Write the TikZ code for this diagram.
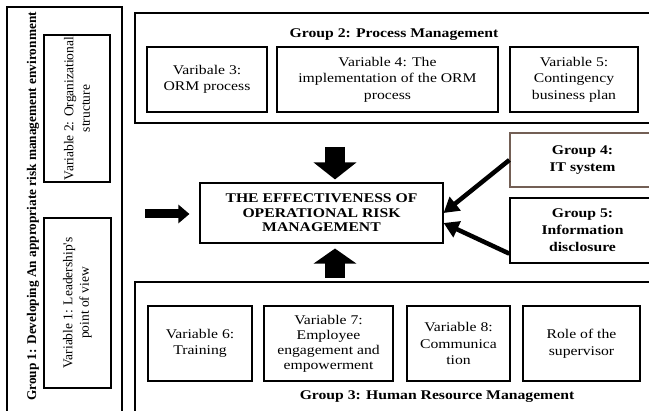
\documentclass[tikz,border=0pt]{standalone}
\usepackage{fontspec}
\setmainfont{Liberation Serif}[FakeStretch=1.18]
\newfontfamily\rotfont{Liberation Serif}
\usetikzlibrary{arrows.meta}
\definecolor{itbrown}{RGB}{115,95,85}

\begin{document}
\begin{tikzpicture}[x=1pt, y=-1pt,
  group/.style={draw, line width=1.3pt, inner sep=0pt},
  varbox/.style={draw, line width=1.1pt, align=center, inner sep=1pt,
    font=\fontsize{13.3}{16.5}\selectfont},
  rotbox/.style={varbox, rotate=90, font=\rotfont\fontsize{13.5}{16.5}\selectfont},
  grouptitle/.style={align=center, font=\fontsize{13.3}{17}\selectfont\bfseries},
  blockarrow/.style={line width=20pt, -{Triangle[width=42pt,length=17pt]}},
  slimarrow/.style={line width=4.5pt, -{Triangle[width=17pt,length=15pt]}}]

  \clip (0,0) rectangle (649,411);

  % group 1
  \node[group, minimum width=115pt, minimum height=413pt] (g1) at (64.5,213.5) {};
  \node[rotate=90, font=\rotfont\fontsize{13.3}{16}\selectfont\bfseries] (g1t) at (33,206.5)
    {Group 1: Developing An appropriate risk management environment};
  \node[rotbox, minimum width=147pt, minimum height=66pt] (v2) at (77,108.5)
    {Variable 2: Organizational\\structure};
  \node[rotbox, minimum width=170pt, minimum height=67pt] (v1) at (77.5,303)
    {Variable 1: Leadership's\\point of view};

  % group 2
  \node[group, minimum width=530pt, minimum height=110pt] (g2) at (400,68) {};
  \node[grouptitle] (g2t) at (394,35) {Group 2: Process Management};
  \node[varbox, minimum width=120pt, minimum height=65pt] (v3) at (207,79.5)
    {Varibale 3:\\ORM process};
  \node[varbox, minimum width=221pt, minimum height=65pt] (v4) at (387.5,79.5)
    {Variable 4: The\\implementation of the ORM\\process};
  \node[varbox, minimum width=128pt, minimum height=65pt] (v5) at (574,79.5)
    {Variable 5:\\Contingency\\business plan};

  % groups 4 and 5
  \node[group, draw=itbrown, minimum width=145pt, minimum height=54pt, grouptitle] (g4) at (582.5,160)
    {Group 4:\\IT system};
  \node[group, minimum width=145pt, minimum height=65pt, grouptitle] (g5) at (582.5,230.5)
    {Group 5:\\Information\\disclosure};

  % centre
  \node[varbox, minimum width=243pt, minimum height=60pt,
    font=\fontsize{13.3}{14.5}\selectfont\bfseries] (eff) at (321.5,213)
    {THE EFFECTIVENESS OF\\OPERATIONAL RISK\\MANAGEMENT};

  % group 3
  \node[group, minimum width=530pt, minimum height=143pt] (g3) at (400,353.5) {};
  \node[grouptitle] (g3t) at (437,397) {Group 3: Human Resource Management};
  \node[varbox, minimum width=104pt, minimum height=75pt] (v6) at (200,343.5)
    {Variable 6:\\Training};
  \node[varbox, minimum width=129pt, minimum height=75pt,
    font=\fontsize{13.3}{15}\selectfont] (v7) at (328.5,343.5)
    {Variable 7:\\Employee\\engagement and\\empowerment};
  \node[varbox, minimum width=103pt, minimum height=75pt] (v8) at (458.5,343.5)
    {Variable 8:\\Communica\\tion};
  \node[varbox, minimum width=117pt, minimum height=75pt] (role) at (581.5,343.5)
    {Role of the\\supervisor};

  % arrows
  \coordinate (dn) at (335,147);
  \coordinate (up) at (335,278);
  \coordinate (lf) at (145,214);
  \draw[blockarrow, shorten >=3pt] (dn) -- (dn |- eff.north);
  \draw[blockarrow, -{Triangle[width=42pt,length=15pt]}, shorten >=5pt] (up) -- (up |- eff.south);
  \draw[line width=9pt, -{Triangle[width=18pt,length=11pt]}, shorten >=10pt] (lf) -- (lf -| eff.west);
  \draw[slimarrow] (g4.west) -- (eff.east);
  \draw[slimarrow] ([yshift=10pt]g5.south west) -- ([yshift=-10pt]eff.east);

\end{tikzpicture}
\end{document}
